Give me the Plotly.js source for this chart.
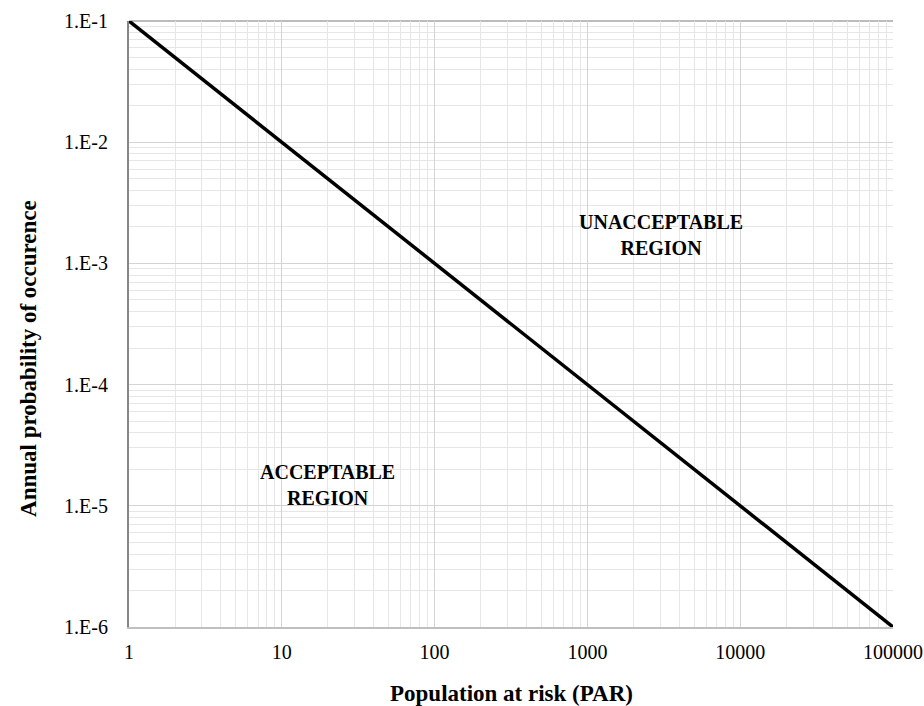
<!DOCTYPE html>
<html>
<head>
<meta charset="utf-8">
<script src="https://cdn.plot.ly/plotly-3.0.1.min.js"></script>
<style>html,body{margin:0;padding:0;background:#fff;}#chart{width:924px;height:706px;}</style>
</head>
<body>
<div id="chart"></div>
<script>
// Data
const parValues = [1, 100000];
const probValues = [0.1, 0.000001];
const yTickVals = [1e-1, 1e-2, 1e-3, 1e-4, 1e-5, 1e-6];
const yTickText = ["1.E-1", "1.E-2", "1.E-3", "1.E-4", "1.E-5", "1.E-6"];
const xTickVals = [1, 10, 100, 1000, 10000, 100000];
const xTickText = ["1", "10", "100", "1000", "10000", "100000"];
const regionLabels = ["UNACCEPTABLE<br>REGION", "ACCEPTABLE<br>REGION"];
const regionX = [3034, 20];
const regionY = [1.71e-3, 1.49e-5];

const font = "Liberation Serif, Times New Roman, serif";

const trace = {
  x: parValues, y: probValues, type: "scatter", mode: "lines",
  line: {color: "#000000", width: 3.5}, hoverinfo: "skip", showlegend: false
};

const layout = {
  width: 924, height: 706,
  margin: {l: 129, r: 31, t: 21, b: 79},
  paper_bgcolor: "#ffffff", plot_bgcolor: "#ffffff",
  font: {family: font, color: "#000000", size: 20},
  showlegend: false,
  xaxis: {
    type: "log", range: [0, 5],
    tickvals: xTickVals, ticktext: xTickText,
    tickfont: {family: font, size: 20, color: "#000"},
    ticks: "", ticklabelstandoff: 6,
    showgrid: true, gridcolor: "#d4d4d4", gridwidth: 1,
    minor: {dtick: "D1", showgrid: true, gridcolor: "#e6e6e6", gridwidth: 1, ticks: ""},
    showline: true, linecolor: "#bfbfbf", linewidth: 2,
    zeroline: false, fixedrange: true
  },
  yaxis: {
    type: "log", range: [-6, -1],
    tickvals: yTickVals, ticktext: yTickText,
    tickfont: {family: font, size: 20, color: "#000"},
    ticks: "", ticklabelstandoff: 15,
    showgrid: true, gridcolor: "#d4d4d4", gridwidth: 1,
    minor: {dtick: "D1", showgrid: true, gridcolor: "#e6e6e6", gridwidth: 1, ticks: ""},
    showline: true, linecolor: "#868686", linewidth: 2,
    zeroline: false, fixedrange: true
  },
  shapes: [
    {type: "line", xref: "paper", yref: "paper", x0: 0, x1: 1, y0: 1, y1: 1,
     line: {color: "#a6a6a6", width: 1.5}, layer: "below"}
  ],
  annotations: [
    {x: Math.log10(regionX[0]), y: Math.log10(regionY[0]), xref: "x", yref: "y",
     text: "<b>" + regionLabels[0] + "</b>", showarrow: false,
     font: {family: font, size: 20, color: "#000"}, align: "center"},
    {x: Math.log10(regionX[1]), y: Math.log10(regionY[1]), xref: "x", yref: "y",
     text: "<b>" + regionLabels[1] + "</b>", showarrow: false,
     font: {family: font, size: 20, color: "#000"}, align: "center"},
    {x: 0.5, y: -0.109, xref: "paper", yref: "paper", xanchor: "center", yanchor: "middle",
     text: "<b>Population at risk (PAR)</b>", showarrow: false,
     font: {family: font, size: 23, color: "#000"}},
    {x: -0.1309, y: 0.444, xref: "paper", yref: "paper", xanchor: "center", yanchor: "middle",
     text: "<b>Annual probability of occurence</b>", showarrow: false, textangle: -90,
     font: {family: font, size: 23, color: "#000"}}
  ]
};

Plotly.newPlot("chart", [trace], layout, {displayModeBar: false, staticPlot: true});
</script>
</body>
</html>
